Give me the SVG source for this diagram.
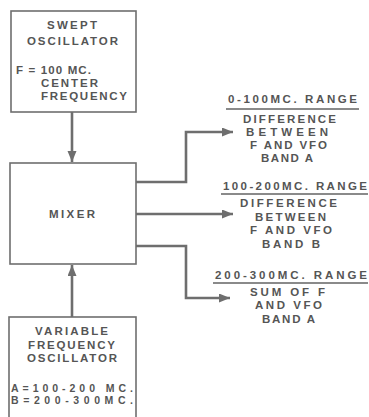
<svg xmlns="http://www.w3.org/2000/svg" width="369" height="417" viewBox="0 0 369 417">
<defs>
<style>
.box{fill:#fff;stroke:#6e6e6e;stroke-width:1.6}
.t{font-family:"Liberation Sans",Arial,sans-serif;font-size:11.5px;font-weight:bold;fill:#555}
.s{font-size:10.5px}
.wire{fill:none;stroke:#6e6e6e;stroke-width:2.6}
.ul{stroke:#8a8a8a;stroke-width:2}
</style>
<marker id="ah" markerUnits="userSpaceOnUse" markerWidth="12" markerHeight="10" refX="11" refY="4.5" orient="auto">
<path d="M0,0 L11,4.5 L0,9 z" fill="#6e6e6e"/>
</marker>
</defs>
<rect width="369" height="417" fill="#fff"/>
<g id="connectors">
<path class="wire" d="M72,112 V162" marker-end="url(#ah)"/>
<path class="wire" d="M72,317 V265" marker-end="url(#ah)"/>
<path class="wire" d="M136,182 H186 V132 H233" marker-end="url(#ah)"/>
<path class="wire" d="M136,214 H233" marker-end="url(#ah)"/>
<path class="wire" d="M136,246 H186 V298 H230" marker-end="url(#ah)"/>
</g>
<g id="swept">
<rect class="box" x="11" y="11" width="125" height="101"/>
<text class="t" x="47" y="29" textLength="50" lengthAdjust="spacing">SWEPT</text>
<text class="t" x="27" y="45" textLength="91" lengthAdjust="spacing">OSCILLATOR</text>
<text class="t" x="16" y="74" textLength="75" lengthAdjust="spacing">F = 100 MC.</text>
<text class="t" x="41" y="87" textLength="57" lengthAdjust="spacing">CENTER</text>
<text class="t" x="41" y="100" textLength="86" lengthAdjust="spacing">FREQUENCY</text>
</g>
<g id="mixer">
<rect class="box" x="10" y="163" width="126" height="101"/>
<text class="t" x="49" y="218" textLength="46" lengthAdjust="spacing">MIXER</text>
</g>
<g id="vfo">
<rect class="box" x="9" y="317" width="127" height="110"/>
<text class="t" x="35" y="335" textLength="73" lengthAdjust="spacing">VARIABLE</text>
<text class="t" x="28" y="348.5" textLength="87" lengthAdjust="spacing">FREQUENCY</text>
<text class="t" x="27" y="362" textLength="90" lengthAdjust="spacing">OSCILLATOR</text>
<text class="t s" x="11" y="392" textLength="122" lengthAdjust="spacing">A=100-200 MC.</text>
<text class="t s" x="11" y="403.5" textLength="122" lengthAdjust="spacing">B=200-300MC.</text>
</g>
<g id="out-a">
<text class="t" x="228" y="103" textLength="129" lengthAdjust="spacing">0-100MC. RANGE</text>
<line class="ul" x1="226" y1="109" x2="359" y2="109"/>
<text class="t" x="243" y="123" textLength="93" lengthAdjust="spacing">DIFFERENCE</text>
<text class="t" x="246" y="136" textLength="82" lengthAdjust="spacing">BETWEEN</text>
<text class="t" x="250" y="149" textLength="77" lengthAdjust="spacing">F AND VFO</text>
<text class="t" x="261" y="162" textLength="52" lengthAdjust="spacing">BAND A</text>
</g>
<g id="out-b">
<text class="t" x="223" y="190" textLength="144" lengthAdjust="spacing">100-200MC. RANGE</text>
<line class="ul" x1="221" y1="194" x2="368" y2="194"/>
<text class="t" x="240" y="207" textLength="97" lengthAdjust="spacing">DIFFERENCE</text>
<text class="t" x="255" y="220.5" textLength="71" lengthAdjust="spacing">BETWEEN</text>
<text class="t" x="250" y="234" textLength="82" lengthAdjust="spacing">F AND VFO</text>
<text class="t" x="262" y="248" textLength="58" lengthAdjust="spacing">BAND B</text>
</g>
<g id="out-c">
<text class="t" x="215" y="279" textLength="152" lengthAdjust="spacing">200-300MC. RANGE</text>
<line class="ul" x1="213" y1="283" x2="368" y2="283"/>
<text class="t" x="250" y="296" textLength="75" lengthAdjust="spacing">SUM OF F</text>
<text class="t" x="255" y="309" textLength="67" lengthAdjust="spacing">AND VFO</text>
<text class="t" x="262" y="323" textLength="53" lengthAdjust="spacing">BAND A</text>
</g>
</svg>
